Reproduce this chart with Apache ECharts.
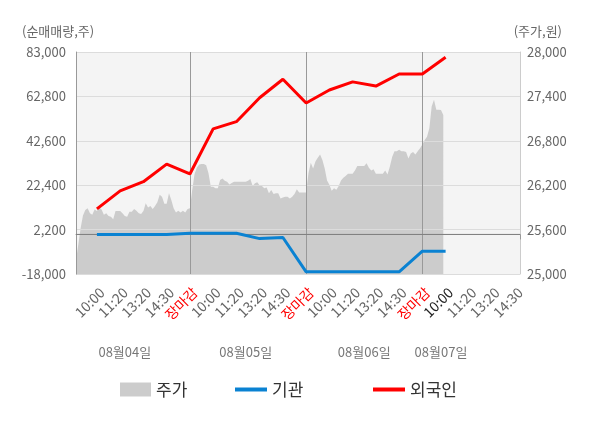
<!DOCTYPE html>
<html>
<head>
<meta charset="utf-8">
<script src="https://cdn.jsdelivr.net/npm/echarts@6/dist/echarts.min.js"></script>
<style>
html, body { margin: 0; padding: 0; background: #fff; }
#chart { width: 600px; height: 428px; }
</style>
</head>
<body>
<div id="chart"></div>
<script>
var myChart = echarts.init(document.getElementById('chart'));

// 날짜 / 시간 라벨
var dayNames = ['08월04일', '08월05일', '08월06일', '08월07일'];
var slotNames = ['10:00', '11:20', '13:20', '14:30', '장마감'];

// 주가 (원) - 그림에서 읽은 값
var price = [
  25190, 25400, 25620, 25790, 25865, 25890, 25820, 25800, 25870, 25850,
  25900, 25870, 25800, 25820, 25785, 25775, 25740, 25850, 25850, 25850,
  25820, 25785, 25775, 25840, 25840, 25880, 25855, 25820, 25810, 25850,
  25955, 25900, 25920, 25880, 25920, 25970, 26070, 26045, 25950, 25950,
  26090, 26000, 25890, 25830, 25855, 25830, 25855, 25830, 25880, 25890,
  26135, 26350, 26440, 26480, 26485, 26485, 26470, 26360, 26180, 26180,
  26160, 26160, 26270, 26290, 26260, 26245, 26210, 26230, 26245, 26245,
  26245, 26245, 26245, 26245, 26260, 26285, 26190, 26225, 26240, 26195,
  26190, 26160, 26170, 26090, 26135, 26080, 26090, 26090, 26020, 26035,
  26045, 26045, 26020, 26045, 26080, 26145, 26100, 26100, 26100, 26100,
  26360, 26505, 26425, 26520, 26570, 26615, 26540, 26425, 26265, 26205,
  26125, 26160, 26140, 26190, 26265, 26300, 26325, 26355, 26355, 26355,
  26400, 26460, 26460, 26460, 26460, 26495, 26435, 26400, 26415, 26355,
  26355, 26355, 26355, 26400, 26345, 26450, 26580, 26660, 26660, 26680,
  26660, 26660, 26650, 26560, 26630, 26650, 26615, 26660, 26700, 26750,
  26810, 26855, 26970, 27265, 27355, 27220, 27220, 27215, 27150
];

// 순매매량 (주)
var foreignNet = [11600, 19800, 24000, 32000, 27500, 48000, 51300, 62200, 70600, 59800, 65700, 69400, 67500, 73000, 73000, 80600];
var instNet = [0, 0, 0, 0, 500, 500, 500, -1900, -1400, -17000, -17000, -17000, -17000, -17000, -7600, -7600];
var baseLine = 0;

// x축: 구간당 10포인트, 하루 50포인트
var total = 192;
var cats = [];
for (var i = 0; i < total; i++) cats.push(String(i));

var tickText = {}, tickColor = {}, lineIdx = [];
for (var d = 0; d < dayNames.length; d++) {
  for (var s = 0; s < slotNames.length; s++) {
    var idx = 50 * d + 10 * s + 9;
    if (idx >= total) continue;
    tickText[idx] = slotNames[s];
    tickColor[idx] = s === 4 ? '#ff0000' : '#666';
    lineIdx.push(idx);
  }
}
tickColor[159] = '#222';
var closeIdx = [49, 99, 149];
var edgeIdx = [0, 49, 99, 149, total - 1];
var dayIdx = [21, 73, 124, 157];
var dayText = {};
dayIdx.forEach(function (v, k) { dayText[v] = dayNames[k]; });

function pairs(vals) {
  return vals.map(function (v, k) { return [lineIdx[k], v]; });
}
function comma(v) { return v.toLocaleString('en-US'); }

var font = 'Noto Sans CJK KR';

var option = {
  animation: false,
  textStyle: { fontFamily: font },
  title: [
    { text: '(순매매량,주)', left: 22, top: 25, padding: 0,
      textStyle: { fontSize: 13, fontWeight: 'normal', color: '#666', fontFamily: font } },
    { text: '(주가,원)', right: 38, top: 25, padding: 0,
      textStyle: { fontSize: 13, fontWeight: 'normal', color: '#666', fontFamily: font } }
  ],
  legend: [
    { data: ['주가'], left: 115, top: 376, itemWidth: 31, itemHeight: 14, icon: 'rect',
      textStyle: { fontSize: 17, color: '#333' } },
    { data: ['기관'], left: 230, top: 376, itemWidth: 32, itemHeight: 4, icon: 'rect',
      textStyle: { fontSize: 17, color: '#333' } },
    { data: ['외국인'], left: 368, top: 376, itemWidth: 32, itemHeight: 4, icon: 'rect',
      textStyle: { fontSize: 17, color: '#333' } }
  ],
  grid: {
    left: 76, right: 80, top: 52, bottom: 154,
    show: true, backgroundColor: '#f4f4f4', borderWidth: 0
  },
  xAxis: [
    {
      type: 'category',
      data: cats,
      boundaryGap: false,
      z: 2,
      axisLine: { lineStyle: { color: '#999' } },
      axisTick: {
        show: true, length: 5,
        interval: function (index) { return edgeIdx.indexOf(index) >= 0; },
        lineStyle: { color: '#999' }
      },
      axisLabel: {
        rotate: 45,
        fontSize: 14,
        margin: 11,
        verticalAlign: 'top',
        interval: function (index) { return tickText[index] !== undefined; },
        formatter: function (v) { return tickText[+v] || ''; },
        color: function (v) { return tickColor[+v] || '#666'; }
      },
      splitLine: {
        show: true,
        interval: function (index) { return closeIdx.indexOf(index) >= 0; },
        lineStyle: { color: '#999', width: 1 }
      }
    },
    {
      type: 'category',
      data: cats,
      boundaryGap: false,
      position: 'bottom',
      offset: 70,
      axisLine: { show: false },
      axisTick: { show: false },
      splitLine: { show: false },
      axisLabel: {
        fontSize: 13,
        margin: 2,
        color: '#777',
        interval: function (index) { return dayText[index] !== undefined; },
        formatter: function (v) { return dayText[+v] || ''; }
      }
    }
  ],
  yAxis: [
    {
      type: 'value',
      position: 'left',
      min: -18000,
      max: 83000,
      interval: 20200,
      z: 2,
      axisLine: { show: true, lineStyle: { color: '#999' } },
      axisTick: { show: false },
      axisLabel: { color: '#666', fontSize: 13, margin: 10, formatter: comma },
      splitLine: { show: true, lineStyle: { color: '#dcdcdc' } }
    },
    {
      type: 'value',
      position: 'right',
      min: 25000,
      max: 28000,
      interval: 600,
      z: 2,
      axisLine: { show: true, lineStyle: { color: '#ccc' } },
      axisTick: { show: false },
      axisLabel: { color: '#666', fontSize: 13, margin: 7, formatter: comma },
      splitLine: { show: false }
    }
  ],
  series: [
    {
      name: '주가',
      type: 'line',
      xAxisIndex: 0,
      yAxisIndex: 1,
      data: price,
      symbol: 'none',
      color: '#cccccc',
      lineStyle: { width: 0 },
      areaStyle: { color: '#cccccc', opacity: 1, origin: 'start' },
      z: 1
    },
    {
      name: '기준',
      type: 'line',
      xAxisIndex: 0,
      yAxisIndex: 0,
      data: [[0, baseLine], [total - 1, baseLine]],
      symbol: 'none',
      silent: true,
      color: '#808080',
      lineStyle: { width: 1, color: '#808080' },
      z: 3
    },
    {
      name: '외국인',
      type: 'line',
      xAxisIndex: 0,
      yAxisIndex: 0,
      data: pairs(foreignNet),
      symbol: 'none',
      color: '#ff0000',
      lineStyle: { width: 3, color: '#ff0000' },
      z: 4
    },
    {
      name: '기관',
      type: 'line',
      xAxisIndex: 0,
      yAxisIndex: 0,
      data: pairs(instNet),
      symbol: 'none',
      color: '#0a82d2',
      lineStyle: { width: 3, color: '#0a82d2' },
      z: 5
    }
  ]
};

myChart.setOption(option);
</script>
</body>
</html>
